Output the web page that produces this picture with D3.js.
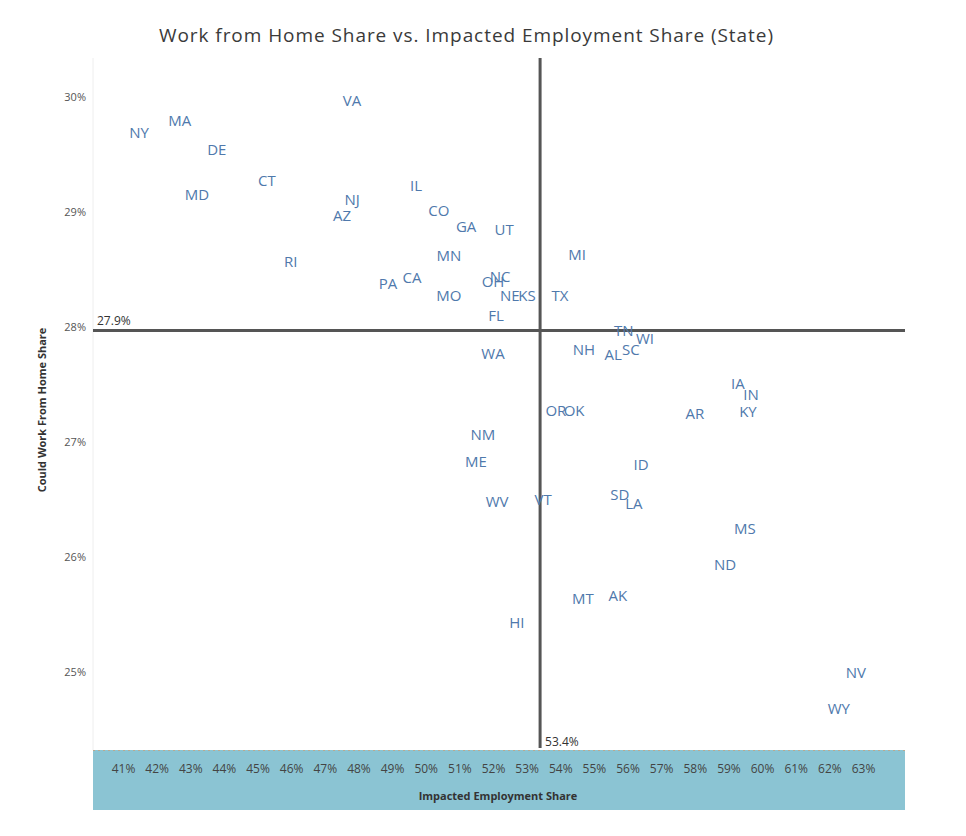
<!DOCTYPE html>
<html>
<head>
<meta charset="utf-8">
<script src="https://cdn.jsdelivr.net/npm/d3@7"></script>
<style>
  body { margin: 0; background: #fff; }
  svg { font-family: "Open Sans", sans-serif; }
</style>
</head>
<body>
<svg width="966" height="836"></svg>
<script>
var states = ['NY','MA','DE','MD','CT','VA','NJ','AZ','IL','CO','GA','UT','RI','MN','MI','NC','OH','CA','PA','MO',
  'NE','KS','TX','FL','TN','WI','SC','AL','NH','WA','IA','IN','KY','AR','OR','OK','NM','ME','ID','WV',
  'VT','SD','LA','MS','ND','MT','AK','HI','NV','WY'];
// impacted employment share (%)
var impacted = [41.48,42.69,43.79,43.20,45.28,47.81,47.81,47.51,49.71,50.39,51.20,52.33,45.99,50.69,54.50,52.21,52.00,49.59,48.88,50.69,
  52.50,53.01,53.99,52.09,55.89,56.52,56.10,55.57,54.70,52.00,59.28,59.67,59.58,58.00,53.87,54.41,51.70,51.49,56.40,52.12,
  53.49,55.77,56.19,59.49,58.90,54.67,55.71,52.71,62.79,62.28];
// could work from home share (%)
var wfh = [29.69,29.79,29.54,29.15,29.27,29.97,29.11,28.97,29.23,29.01,28.87,28.85,28.57,28.62,28.63,28.44,28.39,28.43,28.38,28.27,
  28.27,28.27,28.27,28.10,27.97,27.90,27.80,27.76,27.80,27.77,27.51,27.41,27.26,27.25,27.27,27.27,27.06,26.83,26.80,26.48,
  26.50,26.54,26.46,26.25,25.93,25.64,25.66,25.43,24.99,24.68];

var xTicks = d3.range(41, 64);
var yTicks = [25, 26, 27, 28, 29, 30];
var refX = 53.4, refXLabel = '53.4%';
var refY = 27.97, refYLabel = '27.9%';

var svg = d3.select('svg');

var x = d3.scaleLinear().domain([41, 63]).range([123, 863]);
var y = d3.scaleLinear().domain([25, 30]).range([672, 97]);

var plotLeft = 93, plotRight = 905, plotTop = 58, plotBottom = 750;

// title
svg.append('text')
  .attr('x', 466)
  .attr('y', 42)
  .attr('text-anchor', 'middle')
  .attr('font-size', 19)
  .attr('fill', '#3a3a3a')
  .attr('textLength', 614)
  .text('Work from Home Share vs. Impacted Employment Share (State)');

// faint left frame
svg.append('line')
  .attr('x1', plotLeft).attr('x2', plotLeft)
  .attr('y1', plotTop).attr('y2', plotBottom)
  .attr('stroke', '#eeeeee');

// x axis band
svg.append('rect')
  .attr('x', plotLeft)
  .attr('y', plotBottom)
  .attr('width', plotRight - plotLeft)
  .attr('height', 60)
  .attr('fill', '#8bc4d3');

svg.append('line')
  .attr('x1', plotLeft).attr('x2', plotRight)
  .attr('y1', plotBottom + 0.5).attr('y2', plotBottom + 0.5)
  .attr('stroke', '#b9a98f')
  .attr('stroke-dasharray', '2,3');

var xAxis = d3.axisBottom(x)
  .tickValues(xTicks)
  .tickFormat(function(d) { return d + '%'; })
  .tickSize(0)
  .tickPadding(0);

var gx = svg.append('g')
  .attr('transform', 'translate(0,' + 764 + ')')
  .call(xAxis);
gx.select('.domain').remove();
gx.selectAll('text')
  .attr('font-size', 12)
  .attr('fill', '#444')
  .attr('font-family', '"Open Sans", sans-serif');

svg.append('text')
  .attr('x', 498)
  .attr('y', 800)
  .attr('text-anchor', 'middle')
  .attr('font-size', 11)
  .attr('font-weight', 'bold')
  .attr('fill', '#333')
  .text('Impacted Employment Share');

// y axis
var yAxis = d3.axisLeft(y)
  .tickValues(yTicks)
  .tickFormat(function(d) { return d + '%'; })
  .tickSize(0)
  .tickPadding(0);

var gy = svg.append('g')
  .attr('transform', 'translate(86,0)')
  .call(yAxis);
gy.select('.domain').remove();
gy.selectAll('text')
  .attr('font-size', 11)
  .attr('fill', '#555')
  .attr('font-family', '"Open Sans", sans-serif');

svg.append('text')
  .attr('transform', 'translate(46,410) rotate(-90)')
  .attr('text-anchor', 'middle')
  .attr('font-size', 11)
  .attr('font-weight', 'bold')
  .attr('fill', '#333')
  .text('Could Work From Home Share');

// reference lines
svg.append('line')
  .attr('x1', x(refX)).attr('x2', x(refX))
  .attr('y1', plotTop).attr('y2', plotBottom - 2)
  .attr('stroke', '#555')
  .attr('stroke-width', 3);

svg.append('line')
  .attr('x1', plotLeft).attr('x2', plotRight)
  .attr('y1', y(refY)).attr('y2', y(refY))
  .attr('stroke', '#555')
  .attr('stroke-width', 3);

svg.append('text')
  .attr('x', x(refX) + 5)
  .attr('y', plotBottom - 4)
  .attr('font-size', 12)
  .attr('fill', '#333')
  .text(refXLabel);

svg.append('text')
  .attr('x', plotLeft + 4)
  .attr('y', y(refY) - 5)
  .attr('font-size', 12)
  .attr('fill', '#333')
  .text(refYLabel);

// state labels
svg.append('g')
  .selectAll('text')
  .data(states)
  .enter()
  .append('text')
  .attr('x', function(d, i) { return x(impacted[i]); })
  .attr('y', function(d, i) { return y(wfh[i]); })
  .attr('text-anchor', 'middle')
  .attr('dy', '0.35em')
  .attr('font-size', 15)
  .attr('fill', '#4f79ac')
  .text(function(d) { return d; });
</script>
</body>
</html>
